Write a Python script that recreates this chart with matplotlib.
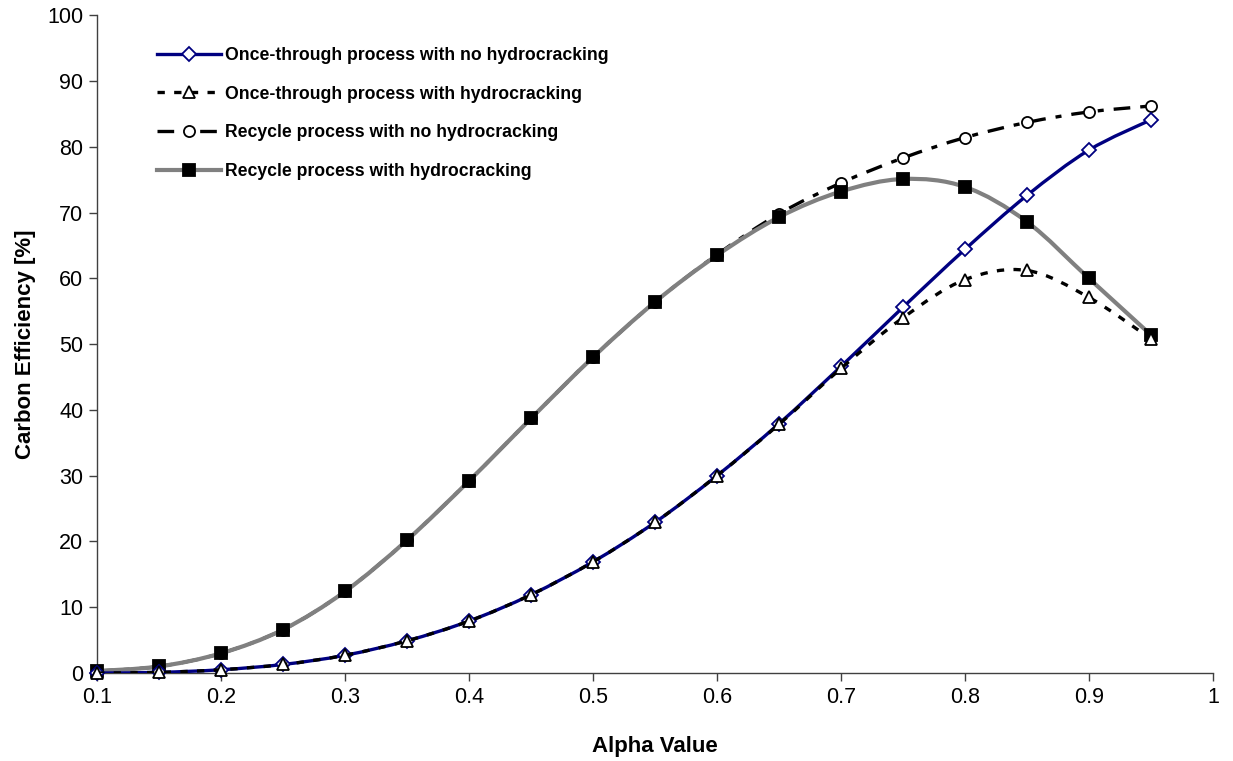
import numpy as np
import matplotlib
matplotlib.use("Agg")
import matplotlib.pyplot as plt
from matplotlib.path import Path
from matplotlib.patches import PathPatch
from matplotlib.lines import Line2D

plt.rcParams['font.family'] = ['Liberation Sans', 'DejaVu Sans']

alpha = [0.10, 0.15, 0.20, 0.25, 0.30, 0.35, 0.40, 0.45, 0.50,
         0.55, 0.60, 0.65, 0.70, 0.75, 0.80, 0.85, 0.90, 0.95]
once_no_hc = [0.0, 0.1, 0.5, 1.3, 2.7, 4.9, 7.9, 11.9, 16.9,
              22.9, 30.0, 37.9, 46.6, 55.6, 64.4, 72.6, 79.5, 84.1]
once_hc = [0.0, 0.1, 0.5, 1.3, 2.7, 4.9, 7.9, 11.9, 16.9,
           22.9, 30.0, 37.8, 46.3, 54.0, 59.8, 61.2, 57.1, 50.8]
recycle_no_hc = [0.3, 1.0, 3.0, 6.6, 12.4, 20.2, 29.2, 38.7, 48.0,
                 56.4, 63.6, 69.8, 74.5, 78.3, 81.4, 83.7, 85.3, 86.2]
recycle_hc = [0.3, 1.0, 3.0, 6.6, 12.4, 20.2, 29.2, 38.7, 48.0,
              56.4, 63.5, 69.3, 73.2, 75.1, 73.9, 68.6, 60.0, 51.4]

labels = ["Once-through process with no hydrocracking",
          "Once-through process with hydrocracking",
          "Recycle process with no hydrocracking",
          "Recycle process with hydrocracking"]

fig = plt.figure(figsize=(12.33, 7.61), dpi=100)
ax = fig.add_axes([0.0787, 0.1156, 0.905, 0.8644])


def smooth_path(xs, ys):
    xs = np.asarray(xs, float)
    ys = np.asarray(ys, float)
    n = len(xs)
    verts = [(xs[0], ys[0])]
    codes = [Path.MOVETO]
    for i in range(n - 1):
        i0 = max(i - 1, 0)
        i3 = min(i + 2, n - 1)
        c1 = (xs[i] + (xs[i + 1] - xs[i0]) / 6, ys[i] + (ys[i + 1] - ys[i0]) / 6)
        c2 = (xs[i + 1] - (xs[i3] - xs[i]) / 6, ys[i + 1] - (ys[i3] - ys[i]) / 6)
        verts += [c1, c2, (xs[i + 1], ys[i + 1])]
        codes += [Path.CURVE4] * 3
    return Path(verts, codes)


styles = [
    dict(color='#000080', lw=2.4, ls='solid', marker='D', ms=7, mfc='white', mec='#000080', z=5),
    dict(color='black', lw=2.4, ls=(0, (2.2, 2.8)), marker='^', ms=8, mfc='white', mec='black', z=6),
    dict(color='black', lw=2.4, ls=(0, (5, 3, 1.8, 3)), marker='o', ms=8, mfc='white', mec='black', z=3),
    dict(color='#808080', lw=3.0, ls='solid', marker='s', ms=8, mfc='black', mec='black', z=4),
]
series = [once_no_hc, once_hc, recycle_no_hc, recycle_hc]

handles = []
for ys, st, lab in zip(series, styles, labels):
    patch = PathPatch(smooth_path(alpha, ys), facecolor='none', edgecolor=st['color'],
                      lw=st['lw'], linestyle=st['ls'], zorder=st['z'], capstyle='butt')
    ax.add_patch(patch)
    ax.plot(alpha, ys, linestyle='none', marker=st['marker'], ms=st['ms'],
            mfc=st['mfc'], mec=st['mec'], mew=1.3, zorder=st['z'] + 0.5, clip_on=False)
    handles.append(Line2D([], [], color=st['color'], lw=st['lw'], linestyle=st['ls'],
                          marker=st['marker'], ms=st['ms'], mfc=st['mfc'], mec=st['mec'], mew=1.3))

ax.set_xlim(0.1, 1.0)
ax.set_ylim(0, 100)
ax.set_xticks(np.arange(0.1, 1.01, 0.1))
ax.set_xticklabels(["0.1", "0.2", "0.3", "0.4", "0.5", "0.6", "0.7", "0.8", "0.9", "1"])
ax.set_yticks(np.arange(0, 101, 10))
for s in ['top', 'right']:
    ax.spines[s].set_visible(False)
for s in ['left', 'bottom']:
    ax.spines[s].set_color('#404040')
    ax.spines[s].set_linewidth(1.0)
ax.tick_params(direction='out', length=6, width=1, color='#404040', labelsize=15.5, pad=4)
ax.set_xlabel("Alpha Value", fontsize=16, fontweight='bold', labelpad=20)
ax.set_ylabel("Carbon Efficiency [%]", fontsize=16, fontweight='bold', labelpad=8)

leg = ax.legend(handles, labels, loc='upper left', bbox_to_anchor=(0.0396, 0.976),
                frameon=False, handlelength=3.6, labelspacing=1.23, handletextpad=0.23,
                prop=dict(size=12.7, weight='bold'))

fig.savefig("out.png", dpi=100)
